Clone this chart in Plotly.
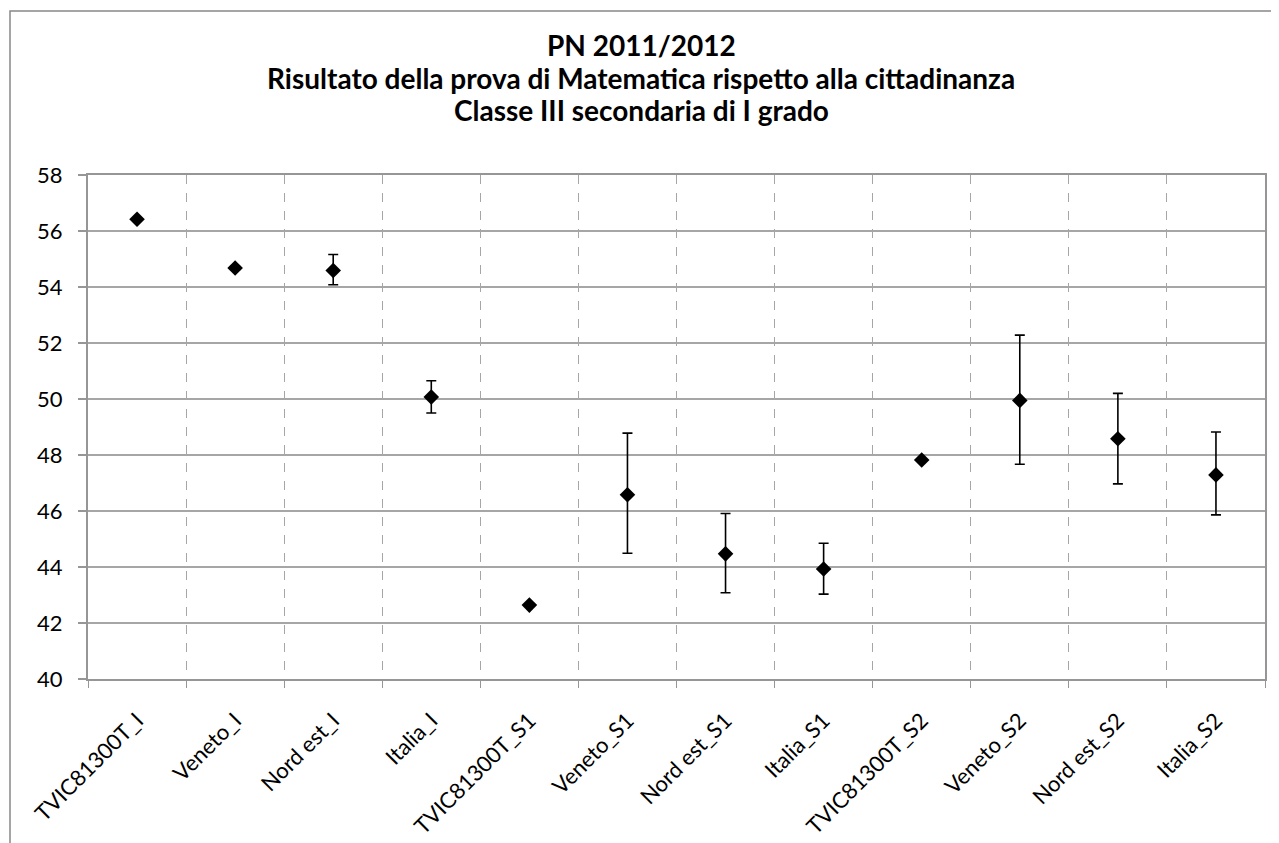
import plotly.graph_objects as go

categories = ["TVIC81300T_I", "Veneto_I", "Nord est_I", "Italia_I",
              "TVIC81300T_S1", "Veneto_S1", "Nord est_S1", "Italia_S1",
              "TVIC81300T_S2", "Veneto_S2", "Nord est_S2", "Italia_S2"]
means = [56.42, 54.68, 54.59, 50.07, 42.64, 46.58, 44.47, 43.93, 47.82, 49.95, 48.58, 47.29]
upper = [56.42, 54.74, 55.16, 50.65, 42.64, 48.78, 45.91, 44.85, 47.82, 52.28, 50.20, 48.82]
lower = [56.42, 54.62, 54.08, 49.50, 42.64, 44.49, 43.08, 43.03, 47.82, 47.67, 46.97, 45.86]

y_ticks = list(range(40, 59, 2))
title_lines = ["PN 2011/2012",
               "Risultato della prova di Matematica rispetto alla cittadinanza",
               "Classe III secondaria di I grado"]

err_plus = [u - m for u, m in zip(upper, means)]
err_minus = [m - l for m, l in zip(means, lower)]

FONT = "Lato"

fig = go.Figure()
fig.add_trace(go.Scatter(
    x=categories, y=means, mode="markers",
    marker=dict(symbol="diamond", size=12, color="black"),
    error_y=dict(type="data", symmetric=False, array=err_plus, arrayminus=err_minus,
                 color="black", thickness=1.6, width=5, visible=True),
    showlegend=False,
))

OFF = 8  # page body margin
W, H = 1279 - OFF, 843 - OFF
L, R, T, B = 88 - OFF, 14, 175 - OFF, 843 - 679
pw, ph = W - L - R, H - T - B

def px_x(p):
    return (p - OFF - L) / pw

def px_y(p):
    return (H - B - (p - OFF)) / ph

fig.update_layout(
    width=W, height=H,
    margin=dict(l=L, r=R, t=T, b=B, autoexpand=False),
    paper_bgcolor="white", plot_bgcolor="white",
    font=dict(family=FONT, size=20, color="black"),
    annotations=[
        dict(text="<b>" + t + "</b>", xref="paper", yref="paper",
             x=px_x(641), y=px_y(yy), xanchor="center", yanchor="middle",
             showarrow=False, font=dict(family=FONT, size=28, color="black"))
        for t, yy in zip(title_lines, [45, 78, 110])
    ],
    shapes=[dict(type="rect", xref="paper", yref="paper",
                 x0=px_x(10), x1=px_x(1300), y0=px_y(11), y1=px_y(900),
                 line=dict(color="#888888", width=1.5), fillcolor="rgba(0,0,0,0)")],
    xaxis=dict(
        type="category", categoryorder="array", categoryarray=categories,
        tickson="boundaries", showgrid=True, gridcolor="#a6a6a6", griddash="dash",
        gridwidth=1, showline=True, linecolor="#969696", linewidth=2, mirror=True,
        ticks="outside", ticklen=7, tickcolor="#969696", tickangle=-45,
        ticklabelstandoff=18, automargin=False,
        tickfont=dict(family=FONT, size=22), range=[-0.5, 11.5],
    ),
    yaxis=dict(
        range=[40, 58], tickvals=y_ticks, showgrid=True, gridcolor="#a6a6a6",
        gridwidth=1.5, showline=True, linecolor="#969696", linewidth=2, mirror=True,
        ticks="outside", ticklen=19, tickcolor="rgba(0,0,0,0)", zeroline=False,
        minor=dict(tickvals=y_ticks, ticks="outside", ticklen=8,
                   tickcolor="#969696", tickwidth=1.5, showgrid=False),
        automargin=False,
        tickfont=dict(family=FONT, size=22),
    ),
)

fig.write_html("out.html")
